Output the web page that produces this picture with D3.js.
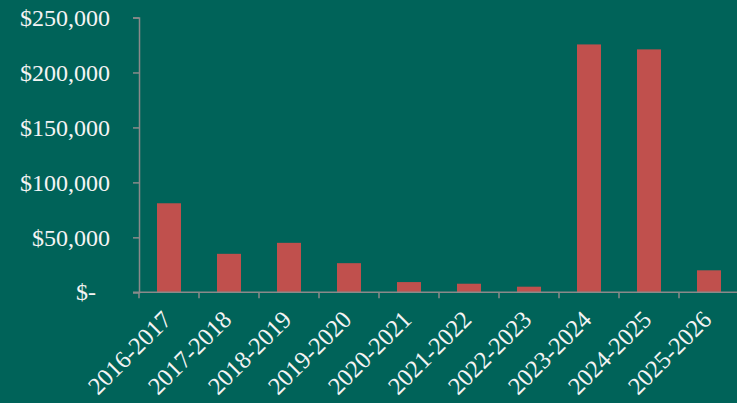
<!DOCTYPE html>
<html>
<head>
<meta charset="utf-8">
<script src="https://cdn.jsdelivr.net/npm/d3@7"></script>
<style>
  html, body { margin: 0; padding: 0; background: #006359; }
  svg { display: block; }
  text { font-family: "Liberation Serif", "DejaVu Serif", serif; fill: #f4f4f4; }
</style>
</head>
<body>
<svg id="chart" width="737" height="403"></svg>
<script>
// Fiscal years and the dollar amount for each
const years = ["2016-2017", "2017-2018", "2018-2019", "2019-2020", "2020-2021",
               "2021-2022", "2022-2023", "2023-2024", "2024-2025", "2025-2026"];
const amounts = [81000, 35000, 45000, 26500, 9300, 7800, 5100, 225500, 221000, 20000];
const yTicks = [0, 50000, 100000, 150000, 200000, 250000];

const svg = d3.select("#chart");
const W = 737, H = 403;
const plotLeft = 139, plotRight = 739, plotTop = 17.5, plotBottom = 292.3;
const axisColor = "#8a8a8a";

svg.append("rect").attr("width", W).attr("height", H).attr("fill", "#006359");

// One slot per fiscal year; bars take the middle 40% of each slot
const slot = d3.scaleBand().domain(years).range([plotLeft, plotRight]).padding(0);
const y = d3.scaleLinear().domain([0, 250000]).range([plotBottom, plotTop]);

// Bars
svg.append("g").selectAll("rect")
  .data(years.map((yr, i) => ({ yr, v: amounts[i] })))
  .join("rect")
  .attr("x", d => slot(d.yr) + slot.bandwidth() * 0.3)
  .attr("width", slot.bandwidth() * 0.4)
  .attr("y", d => y(d.v))
  .attr("height", d => y(0) - y(d.v))
  .attr("fill", "#c0504d");

// Y axis
const fmt = d3.format(",");
const yAxis = svg.append("g")
  .attr("transform", `translate(${plotLeft},0)`)
  .call(d3.axisLeft(y).tickValues(yTicks).tickSize(6).tickPadding(23)
    .tickFormat(v => v === 0 ? "$-" : "$" + fmt(v)));
yAxis.select(".domain").attr("stroke", axisColor).attr("stroke-width", 1.5);
yAxis.selectAll(".tick line").attr("stroke", axisColor).attr("stroke-width", 1.5);
yAxis.selectAll(".tick text")
  .attr("font-size", 24)
  .attr("font-family", "Liberation Serif")
  .attr("fill", "#f4f4f4")
  .attr("dx", v => v === 0 ? -14 : 0);

// X axis line with boundary ticks between fiscal years
const xg = svg.append("g");
xg.append("line")
  .attr("x1", plotLeft - 6).attr("x2", W)
  .attr("y1", plotBottom).attr("y2", plotBottom)
  .attr("stroke", axisColor).attr("stroke-width", 1.5);
xg.selectAll("line.tick")
  .data(years)
  .join("line")
  .attr("class", "tick")
  .attr("x1", d => slot(d)).attr("x2", d => slot(d))
  .attr("y1", plotBottom).attr("y2", plotBottom + 6)
  .attr("stroke", axisColor).attr("stroke-width", 1.5);

// Rotated fiscal-year labels
xg.selectAll("text")
  .data(years)
  .join("text")
  .attr("text-anchor", "end")
  .attr("font-size", 24.5)
  .attr("transform", d => `translate(${slot(d) + slot.bandwidth() / 2 + 4},321) rotate(-45)`)
  .text(d => d);
</script>
</body>
</html>
